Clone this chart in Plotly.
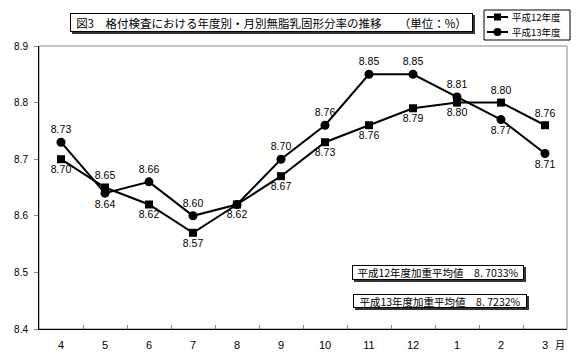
import plotly.graph_objects as go

months = ["4", "5", "6", "7", "8", "9", "10", "11", "12", "1", "2", "3"]
h12 = [8.70, 8.65, 8.62, 8.57, 8.62, 8.67, 8.73, 8.76, 8.79, 8.80, 8.80, 8.76]
h13 = [8.73, 8.64, 8.66, 8.60, 8.62, 8.70, 8.76, 8.85, 8.85, 8.81, 8.77, 8.71]
h12_pos = ["bottom center", "top center", "bottom center", "bottom center", "bottom center",
           "bottom center", "bottom center", "bottom center", "bottom center", "bottom center",
           "top center", "top center"]
h13_pos = ["top center", "bottom center", "top center", "top center", "top center",
           "top center", "top center", "top center", "top center", "top center",
           "bottom center", "bottom center"]
h13_show = [True, True, True, True, False, True, True, True, True, True, True, True]
series_names = ["平成12年度", "平成13年度"]
title_text = "図3　格付検査における年度別・月別無脂乳固形分率の推移　　（単位：%）"
avg_texts = ["平成12年度加重平均値　8. 7033%", "平成13年度加重平均値　8. 7232%"]

W, H = 576, 363
L, R, T, B = 39, 567, 46, 329
FONT = "Noto Sans CJK JP, Liberation Sans, Arial, sans-serif"
NUMFONT = "Liberation Sans, Arial, sans-serif"

def px(x):
    return (x - L) / (R - L)

def py(y):
    return (B - y) / (B - T)

fig = go.Figure()
fig.add_trace(go.Scatter(
    x=months, y=h12, name=series_names[0], mode="lines+markers+text",
    line=dict(color="black", width=2),
    marker=dict(symbol="square", size=8, color="black"),
    text=[f"{v:.2f}" for v in h12], textposition=h12_pos,
    textfont=dict(size=10.5, color="black", family=NUMFONT),
    cliponaxis=False,
))
fig.add_trace(go.Scatter(
    x=months, y=h13, name=series_names[1], mode="lines+markers+text",
    line=dict(color="black", width=2),
    marker=dict(symbol="circle", size=9, color="black"),
    text=[f"{v:.2f}" if s else "" for v, s in zip(h13, h13_show)], textposition=h13_pos,
    textfont=dict(size=10.5, color="black", family=NUMFONT),
    cliponaxis=False,
))

shapes = []
# plot frame (top/right gray)
shapes.append(dict(type="rect", xref="paper", yref="paper", x0=0, x1=1, y0=0, y1=1,
                   line=dict(color="#888888", width=1), layer="below"))

# boxed texts: (x0, x1, y0, y1) in pixels
boxes = [(70, 473, 13, 32), (352, 524, 265, 280), (353, 527, 294, 308)]
for (x0, x1, y0, y1) in boxes:
    shapes.append(dict(type="rect", xref="paper", yref="paper",
                       x0=px(x0 + 2), x1=px(x1 + 2), y0=py(y1 + 2), y1=py(y0 + 2),
                       fillcolor="#333333", line=dict(width=0), layer="below"))

# manual legend box
shapes.append(dict(type="rect", xref="paper", yref="paper",
                   x0=px(484), x1=px(570), y0=py(40), y1=py(10),
                   fillcolor="white", line=dict(color="black", width=1)))
for yy, sym in [(17, "square"), (32, "circle")]:
    shapes.append(dict(type="line", xref="paper", yref="paper",
                       x0=px(487), x1=px(508), y0=py(yy), y1=py(yy),
                       line=dict(color="black", width=2)))
    if sym == "square":
        shapes.append(dict(type="rect", xref="paper", yref="paper",
                           x0=px(494), x1=px(501), y0=py(yy + 3.5), y1=py(yy - 3.5),
                           fillcolor="black", line=dict(width=0)))
    else:
        shapes.append(dict(type="circle", xref="paper", yref="paper",
                           x0=px(493.5), x1=px(501.5), y0=py(yy + 4), y1=py(yy - 4),
                           fillcolor="black", line=dict(width=0)))

box_fonts = [11.5, 10.5, 10.5]
box_texts = [title_text] + avg_texts
annotations = []
for (x0, x1, y0, y1), txt, fs in zip(boxes, box_texts, box_fonts):
    annotations.append(dict(
        x=px((x0 + x1) / 2), y=py((y0 + y1) / 2), xref="paper", yref="paper",
        text=txt, showarrow=False, width=x1 - x0 - 2, height=y1 - y0 - 2,
        font=dict(size=fs, color="black", family=FONT), bgcolor="white",
        bordercolor="black", borderwidth=1, borderpad=0,
        xanchor="center", yanchor="middle", align="center", valign="middle"))

annotations += [
    dict(x=px(560), y=py(344), xref="paper", yref="paper", text="月", showarrow=False,
         font=dict(size=10, color="black", family=FONT), xanchor="center", yanchor="middle"),
    dict(x=px(510), y=py(17), xref="paper", yref="paper", text=series_names[0], showarrow=False,
         font=dict(size=9.5, color="black", family=FONT), xanchor="left", yanchor="middle"),
    dict(x=px(510), y=py(32), xref="paper", yref="paper", text=series_names[1], showarrow=False,
         font=dict(size=9.5, color="black", family=FONT), xanchor="left", yanchor="middle"),
]

fig.update_layout(
    width=W, height=H,
    margin=dict(l=L, r=W - R, t=T, b=H - B, autoexpand=False),
    plot_bgcolor="white", paper_bgcolor="white",
    font=dict(family=FONT, color="black"),
    showlegend=False,
    shapes=shapes,
    annotations=annotations,
    xaxis=dict(type="category", tickson="boundaries", ticks="inside", ticklen=4,
               tickcolor="#888888", showline=True, linecolor="black", linewidth=1,
               showgrid=False, zeroline=False,
               tickfont=dict(size=11, family=NUMFONT),
               ticklabelstandoff=6, range=[-0.5, 11.5]),
    yaxis=dict(range=[8.4, 8.9], dtick=0.1, tickformat=".1f", ticks="outside", ticklen=4,
               tickcolor="#888888", showline=True, linecolor="black", linewidth=1,
               showgrid=False, zeroline=False,
               tickfont=dict(size=10, family=NUMFONT),
               ticklabelstandoff=4),
)

fig.write_html("out.html", config={"displayModeBar": False},
               post_script="document.body.style.margin='0';")
